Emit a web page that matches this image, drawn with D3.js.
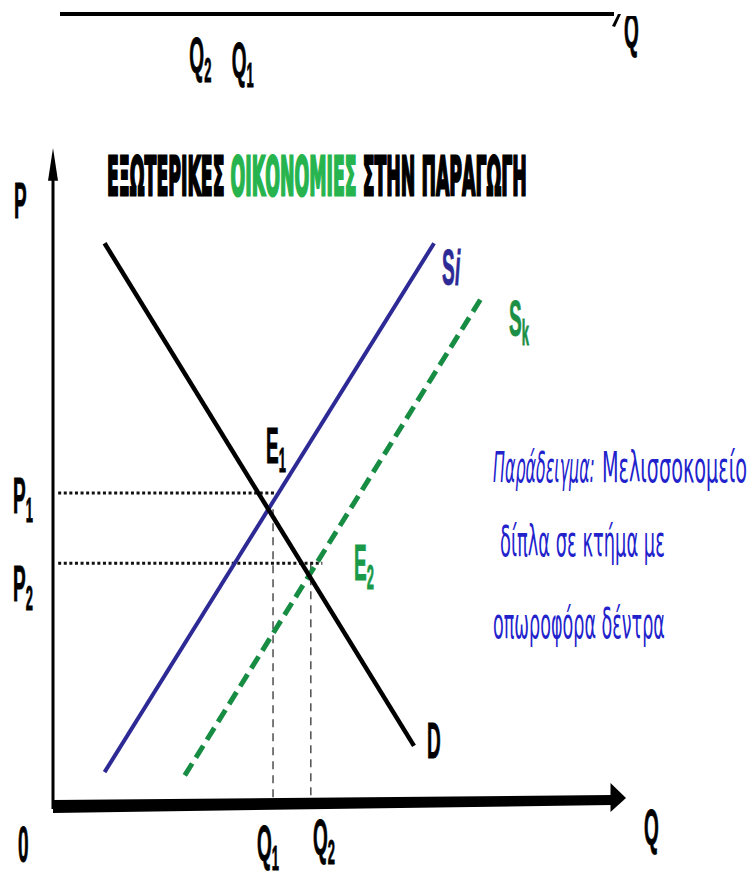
<!DOCTYPE html>
<html><head><meta charset="utf-8">
<script src="https://cdn.jsdelivr.net/npm/d3@7"></script>
<style>body{margin:0;background:#fff}svg{display:block}</style>
</head><body>
<script>
// ---------- data (arbitrary units) ----------
const qDomain = [0, 10];
const pDomain = [0, 10];
const demandD  = [[0.9, 8.55], [6.3, 0.9]];
const supplySi = [[0.9, 0.5], [6.65, 8.55]];
const supplySk = [[2.3, 0.45], [7.5, 7.75]];
const priceLevels = [
  {sub: "1", p: 4.75, qEnd: 3.9},
  {sub: "2", p: 3.68, qEnd: 4.7}
];
const quantityLevels = [
  {sub: "1", q: 3.84, pTop: 4.5},
  {sub: "2", q: 4.5, pTop: 3.68}
];
const topTicks = [
  {sub: "2", q: 2.38},
  {sub: "1", q: 3.12}
];
const titleParts = [
  {text: "ΕΞΩΤΕΡΙΚΕΣ ", color: "#000"},
  {text: "ΟΙΚΟΝΟΜΙΕΣ", color: "#27b44e"},
  {text: " ΣΤΗΝ ΠΑΡΑΓΩΓΗ", color: "#000"}
];
const noteLines = [
  [{text: "Παράδειγμα:", italic: true, x0: 493, x1: 595}, {text: "Μελισσοκομείο", italic: false, x0: 602, x1: 747}],
  [{text: "δίπλα σε κτήμα με", italic: false, x0: 500, x1: 665}],
  [{text: "οπωροφόρα δέντρα", italic: false, x0: 493, x1: 665}]
];
const noteBaselines = [482, 556, 638];

// ---------- setup ----------
const W = 753, H = 880;
const svg = d3.select("body").append("svg").attr("width", W).attr("height", H);
const x = d3.scaleLinear().domain(qDomain).range([53, 626]);
const y = d3.scaleLinear().domain(pDomain).range([805, 148]);
const line = d3.line().x(d => x(d[0])).y(d => y(d[1]));

const BLUE = "#2d2a96", GREEN = "#178c43", NOTE = "#2222cc";

function label(parent, px, py, main, sub, color, opt = {}) {
  const fs = opt.fs || 19, sy = opt.sy || 2.65;
  const g = parent.append("g").attr("transform", `translate(${px},${py}) scale(1,${sy})`);
  const t = g.append("text")
    .attr("font-family", "Liberation Sans, Arial, sans-serif")
    .attr("font-weight", "bold").attr("font-size", fs).attr("fill", color)
    .attr("stroke", color).attr("stroke-width", 0.35);
  const m = t.append("tspan").text(main);
  if (opt.italic) m.attr("font-style", "italic");
  if (sub) t.append("tspan").text(sub).attr("dy", fs * 0.18).attr("font-size", fs * 0.68);
  return g;
}

// stretched text fitted to a width by a scale transform
function fitted(px, py, targetW, sy, build) {
  const g = svg.append("g");
  const t = build(g.append("text"));
  const natural = t.node().getComputedTextLength();
  g.attr("transform", `translate(${px},${py}) scale(${targetW / natural},${sy})`);
  return g;
}

// ---------- top remnant axis ----------
svg.append("line").attr("x1", 60).attr("x2", 614).attr("y1", 14).attr("y2", 14)
  .attr("stroke", "#000").attr("stroke-width", 4);
svg.append("path").attr("d", "M612,26 L618,14 L621,14 L615,27 Z").attr("fill", "#000");
topTicks.forEach((t, i) => label(svg, x(t.q), i === 0 ? 73 : 78, "Q", t.sub, "#000"));
const cp = svg.append("clipPath").attr("id", "topclip");
cp.append("rect").attr("x", 600).attr("y", 16).attr("width", 60).attr("height", 60);
const topQ = svg.append("g").attr("clip-path", "url(#topclip)");
label(topQ, 624, 48, "Q", null, "#000");

// ---------- title ----------
fitted(107, 195, 420, 2.25, t => {
  t.attr("font-family", "DejaVu Sans, sans-serif").attr("font-weight", "bold")
   .attr("font-size", 24).attr("stroke-width", 1.3);
  titleParts.forEach(p => t.append("tspan").text(p.text).attr("fill", p.color).attr("stroke", p.color));
  return t;
});

// ---------- axes ----------
svg.append("line").attr("x1", x(0)).attr("x2", x(0)).attr("y1", y(9.55)).attr("y2", y(0) + 4)
  .attr("stroke", "#000").attr("stroke-width", 3);
svg.append("path").attr("d", `M${x(0)},${y(10)} L${x(0) - 5},${y(9.5)} L${x(0) + 5},${y(9.5)} Z`).attr("fill", "#000");
svg.append("path")
  .attr("d", `M${x(0)},${y(0) - 5} L${x(9.75)},${y(0) - 10} L${x(9.75)},${y(0) + 0} L${x(0)},${y(0) + 8} Z`)
  .attr("fill", "#000");
svg.append("path")
  .attr("d", `M${x(9.73)},${y(0) - 22} L${x(10)},${y(0) - 7} L${x(9.73)},${y(0) + 7} Z`)
  .attr("fill", "#000");

// ---------- guide lines ----------
priceLevels.forEach(d => {
  svg.append("line").attr("x1", x(0.09)).attr("x2", x(d.qEnd))
    .attr("y1", y(d.p)).attr("y2", y(d.p))
    .attr("stroke", "#111").attr("stroke-width", 3).attr("stroke-dasharray", "3,2.6");
});
quantityLevels.forEach(d => {
  svg.append("line").attr("x1", x(d.q)).attr("x2", x(d.q))
    .attr("y1", y(d.pTop)).attr("y2", y(0) - 6)
    .attr("stroke", "#222").attr("stroke-width", 1.2).attr("stroke-dasharray", "8,6");
});

// ---------- curves ----------
svg.append("path").attr("d", line(supplySk)).attr("fill", "none")
  .attr("stroke", GREEN).attr("stroke-width", 5).attr("stroke-dasharray", "14,7");
svg.append("path").attr("d", line(supplySi)).attr("fill", "none")
  .attr("stroke", BLUE).attr("stroke-width", 4);
svg.append("path").attr("d", line(demandD)).attr("fill", "none")
  .attr("stroke", "#000").attr("stroke-width", 4.5);

// ---------- labels ----------
label(svg, 14, 218, "P", null, "#000");
priceLevels.forEach((d, i) => label(svg, 13, i === 0 ? 513 : 601, "P", d.sub, "#000"));
quantityLevels.forEach((d, i) => label(svg, i === 0 ? 257 : 313, i === 0 ? 861 : 855, "Q", d.sub, "#000"));
label(svg, 18, 862, "0", null, "#000");
label(svg, 644, 845, "Q", null, "#000");
label(svg, 266, 463, "E", "1", "#000");
label(svg, 354, 580, "E", "2", "#1a9a48");
label(svg, 427, 758, "D", null, "#000");
label(svg, 442, 285, "S", null, BLUE);
label(svg, 455, 285, "i", null, BLUE, {italic: true});
label(svg, 509, 336, "S", "k", "#1a8f45");

// ---------- note ----------
noteLines.forEach((ln, i) => {
  ln.forEach(seg => {
    fitted(seg.x0, noteBaselines[i], seg.x1 - seg.x0, 2.2, t =>
      t.text(seg.text)
       .attr("font-family", "DejaVu Sans, sans-serif").attr("font-size", 19)
       .attr("font-style", seg.italic ? "italic" : "normal")
       .attr("fill", NOTE));
  });
});
</script>
</body></html>
